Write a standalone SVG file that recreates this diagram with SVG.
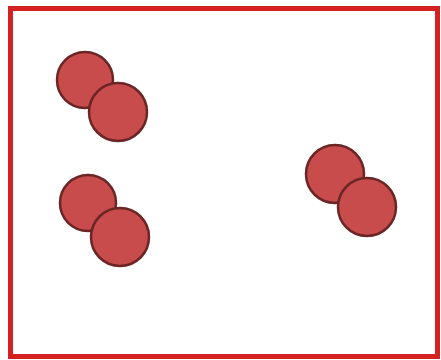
<svg xmlns="http://www.w3.org/2000/svg" width="441" height="360" viewBox="0 0 441 360">
<style>
.frame{fill:#fff;stroke:#d42222;stroke-width:5}
.c{fill:#c84c4c;stroke:#6b2525;stroke-width:2.5}
</style>
<rect x="0" y="0" width="441" height="360" fill="#fff"/>
<rect class="frame" x="10.5" y="8.5" width="427" height="348"/>
<g id="pair1">
<circle class="c" cx="85" cy="80" r="28"/>
<circle class="c" cx="118" cy="112" r="29"/>
</g>
<g id="pair2">
<circle class="c" cx="88" cy="203" r="28"/>
<circle class="c" cx="120" cy="237" r="29"/>
</g>
<g id="pair3">
<circle class="c" cx="335" cy="174" r="29"/>
<circle class="c" cx="367" cy="207" r="29"/>
</g>
<g id="connectors"></g>
</svg>
